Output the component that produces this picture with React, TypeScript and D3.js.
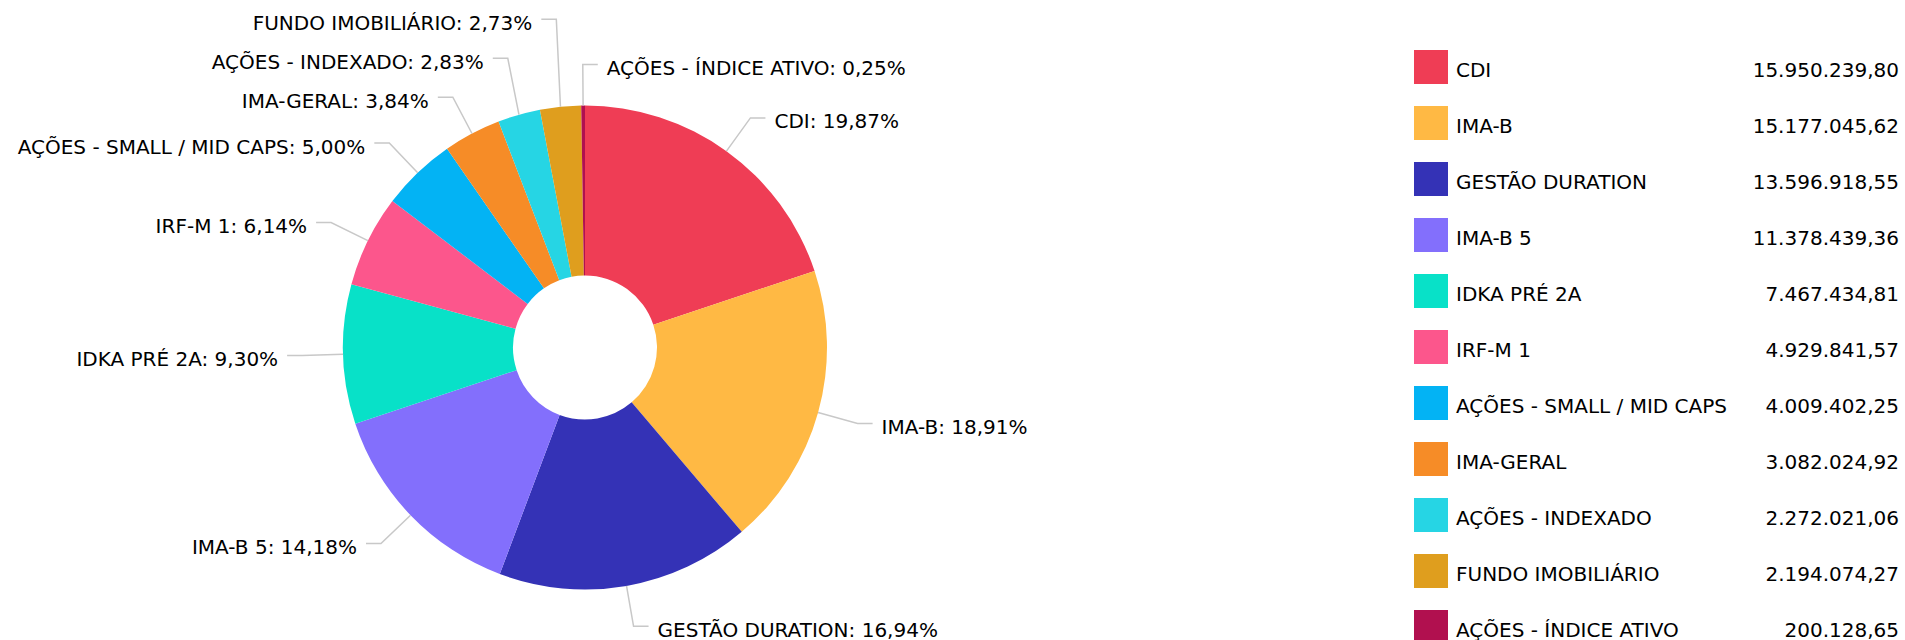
import React, { useEffect, useRef } from 'react';
import * as d3 from 'd3';

const categories = [
  'CDI',
  'IMA-B',
  'GESTÃO DURATION',
  'IMA-B 5',
  'IDKA PRÉ 2A',
  'IRF-M 1',
  'AÇÕES - SMALL / MID CAPS',
  'IMA-GERAL',
  'AÇÕES - INDEXADO',
  'FUNDO IMOBILIÁRIO',
  'AÇÕES - ÍNDICE ATIVO',
];

const values = [
  15950239.8, 15177045.62, 13596918.55, 11378439.36, 7467434.81, 4929841.57,
  4009402.25, 3082024.92, 2272021.06, 2194074.27, 200128.65,
];

const colors = [
  '#EF3D55', '#FFB944', '#3432B6', '#836FFC', '#08E1C8', '#FC568C',
  '#03B3F4', '#F68C27', '#26D5E4', '#DF9E1E', '#B1104F',
];

const W = 1905;
const H = 640;

const ptBR = d3.formatLocale({
  decimal: ',',
  thousands: '.',
  grouping: [3],
  currency: ['R$', ''],
});
const fmtMoney = ptBR.format(',.2f');
const fmtPct = ptBR.format('.2f');

type Slice = d3.PieArcDatum<number> & { i: number };

const App: React.FC = () => {
  const ref = useRef<SVGSVGElement | null>(null);

  useEffect(() => {
    if (!ref.current) return;
    const svg = d3.select(ref.current);
    svg.selectAll('*').remove();

    const cx = 585;
    const cy = 347.5;
    const outer = 242;
    const inner = 72;
    const elbowR = 283;
    const gap = 39;
    const total = d3.sum(values);

    const pie = d3
      .pie<number>()
      .sort(null)
      .startAngle(0)
      .endAngle(Math.PI * 2);
    const arcs = pie(values).map((d, i) => ({ ...d, i })) as Slice[];

    const arc = d3.arc<Slice>().innerRadius(inner).outerRadius(outer);

    const g = svg.append('g').attr('transform', `translate(${cx},${cy})`);

    g.selectAll('path.slice')
      .data(arcs)
      .enter()
      .append('path')
      .attr('class', 'slice')
      .attr('d', arc)
      .attr('fill', d => colors[d.i]);

    // label placement: radial elbow, then push apart on each side
    const labels = arcs.map(d => {
      const a = (d.startAngle + d.endAngle) / 2;
      const right = Math.sin(a) > -0.05;
      return {
        i: d.i,
        right,
        ex: outer * Math.sin(a),
        ey: -outer * Math.cos(a),
        x: elbowR * Math.sin(a),
        y: -elbowR * Math.cos(a),
      };
    });

    const left = labels.filter(l => !l.right).sort((a, b) => b.y - a.y);
    left.forEach((l, k) => {
      if (k > 0) l.y = Math.min(l.y, left[k - 1].y - gap);
    });
    const rightSide = labels.filter(l => l.right).sort((a, b) => a.y - b.y);
    rightSide.forEach((l, k) => {
      if (k > 0) l.y = Math.max(l.y, rightSide[k - 1].y + gap);
    });

    const tick = 15;
    g.selectAll('path.tick')
      .data(labels)
      .enter()
      .append('path')
      .attr('class', 'tick')
      .attr('fill', 'none')
      .attr('stroke', '#c8c8c8')
      .attr('stroke-width', 1.5)
      .attr('d', l => {
        const p = d3.path();
        p.moveTo(l.ex, l.ey);
        p.lineTo(l.x, l.y);
        p.lineTo(l.x + (l.right ? tick : -tick), l.y);
        return p.toString();
      });

    g.selectAll('text.lbl')
      .data(labels)
      .enter()
      .append('text')
      .attr('class', 'lbl')
      .attr('x', l => l.x + (l.right ? tick + 9 : -(tick + 9)))
      .attr('y', l => l.y + 10.5)
      .attr('text-anchor', l => (l.right ? 'start' : 'end'))
      .attr('font-size', 20)
      .attr('fill', '#000')
      .text(l => `${categories[l.i]}: ${fmtPct((values[l.i] / total) * 100)}%`);

    // legend
    const y = d3
      .scaleBand<string>()
      .domain(categories)
      .range([39, 39 + 56 * categories.length]);

    const leg = svg.append('g');
    const rows = leg
      .selectAll('g.row')
      .data(categories)
      .enter()
      .append('g')
      .attr('class', 'row')
      .attr('transform', c => `translate(0,${(y(c) ?? 0) + y.bandwidth() / 2})`);

    rows
      .append('rect')
      .attr('x', 1414)
      .attr('y', -17)
      .attr('width', 34)
      .attr('height', 34)
      .attr('fill', (_, i) => colors[i]);

    rows
      .append('text')
      .attr('x', 1456)
      .attr('y', 9.5)
      .attr('font-size', 20)
      .attr('fill', '#000')
      .text(c => c);

    rows
      .append('text')
      .attr('x', 1899)
      .attr('y', 9.5)
      .attr('text-anchor', 'end')
      .attr('font-size', 20)
      .attr('fill', '#000')
      .text((_, i) => fmtMoney(values[i]));
  }, []);

  return (
    <div style={{ position: 'absolute', left: 0, top: 0, width: W, height: H, background: '#fff' }}>
      <svg
        ref={ref}
        width={W}
        height={H}
        style={{ display: 'block', fontFamily: '"DejaVu Sans", Verdana, sans-serif' }}
      />
    </div>
  );
};

export default App;
